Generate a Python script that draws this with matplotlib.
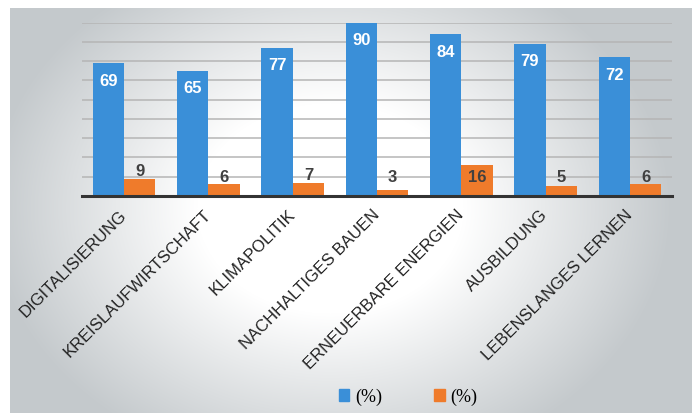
import numpy as np
import matplotlib
matplotlib.use("Agg")
import matplotlib.pyplot as plt
from matplotlib.patches import Patch

categories = ["DIGITALISIERUNG", "KREISLAUFWIRTSCHAFT", "KLIMAPOLITIK",
              "NACHHALTIGES BAUEN", "ERNEUERBARE ENERGIEN", "AUSBILDUNG",
              "LEBENSLANGES LERNEN"]
series_a = [69, 65, 77, 90, 84, 79, 72]
series_b = [9, 6, 7, 3, 16, 5, 6]
legend_labels = ["(%)", "(%)"]

BLUE = "#3A8FD8"
ORANGE = "#EF7B2B"

W, H = 692, 413
fig = plt.figure(figsize=(W / 100, H / 100), dpi=100)
fig.patch.set_facecolor("white")

# background gradient
bg = fig.add_axes([10 / W, 0, (W - 10) / W, (H - 8) / H], zorder=0)
yy, xx = np.mgrid[0:405, 0:682]
cx, cy, rx, ry = 320, 200, 380, 300
t = np.sqrt(((xx - cx) / rx) ** 2 + ((yy - cy) / ry) ** 2)
s = np.clip((t - 0.35) / 0.55, 0, 1)
edge = np.array([196, 201, 204]) / 255.0
img = (1 - s[..., None]) * np.ones(3) + s[..., None] * edge
bg.imshow(img, aspect="auto", interpolation="bilinear")
bg.axis("off")

ax = fig.add_axes([82 / W, (H - 196) / H, (672 - 82) / W, 173.3 / H], zorder=1)
ax.patch.set_alpha(0)
x = np.arange(len(categories))
w = 0.372
ax.bar(x - w / 2, series_a, width=w, color=BLUE, zorder=3)
ax.bar(x + w / 2, series_b, width=w, color=ORANGE, zorder=3)

ax.set_xlim(-0.5, len(categories) - 0.5)
ax.set_ylim(0, 90)
ax.set_yticks(np.arange(10, 91, 10))
ax.yaxis.grid(True, color="#B5B5B5", linewidth=1.1, zorder=1)
ax.set_axisbelow(True)
ax.tick_params(axis="y", length=0, labelleft=False)
for sp in ["top", "left", "right"]:
    ax.spines[sp].set_visible(False)
ax.spines["bottom"].set_color("#333333")
ax.spines["bottom"].set_linewidth(2.2)
ax.spines["bottom"].set_zorder(4)

ax.set_xticks(x)
ax.set_xticklabels(categories, rotation=45, ha="right", va="center",
                   rotation_mode="anchor", fontsize=12,
                   family="Liberation Sans", color="#222222")
ax.tick_params(axis="x", length=0, pad=12)

for xi, v in zip(x, series_a):
    ax.annotate(str(v), (xi - w / 2, v), xytext=(0, -13), textcoords="offset points",
                ha="center", va="center", color="white", fontsize=12,
                fontweight="bold", family="Liberation Sans", zorder=5)

# orange labels sit near a common height just above the short bars
for xi, v in zip(x, series_b):
    ypos = max(9.5, v + 3.8) if v < 12 else 9.5
    ax.text(xi + w / 2, ypos, str(v), ha="center", va="center", color="#404040",
            fontsize=12, fontweight="bold", family="Liberation Sans", zorder=5)

handles = [Patch(color=BLUE), Patch(color=ORANGE)]
fig.legend(handles, legend_labels, loc="center", bbox_to_anchor=(408 / W, (H - 397) / H),
           ncol=2, frameon=False, prop={"family": "Liberation Serif", "size": 13},
           handlelength=0.6, handleheight=0.6, handletextpad=0.3, columnspacing=2.9)

fig.savefig("out.png", dpi=100)
